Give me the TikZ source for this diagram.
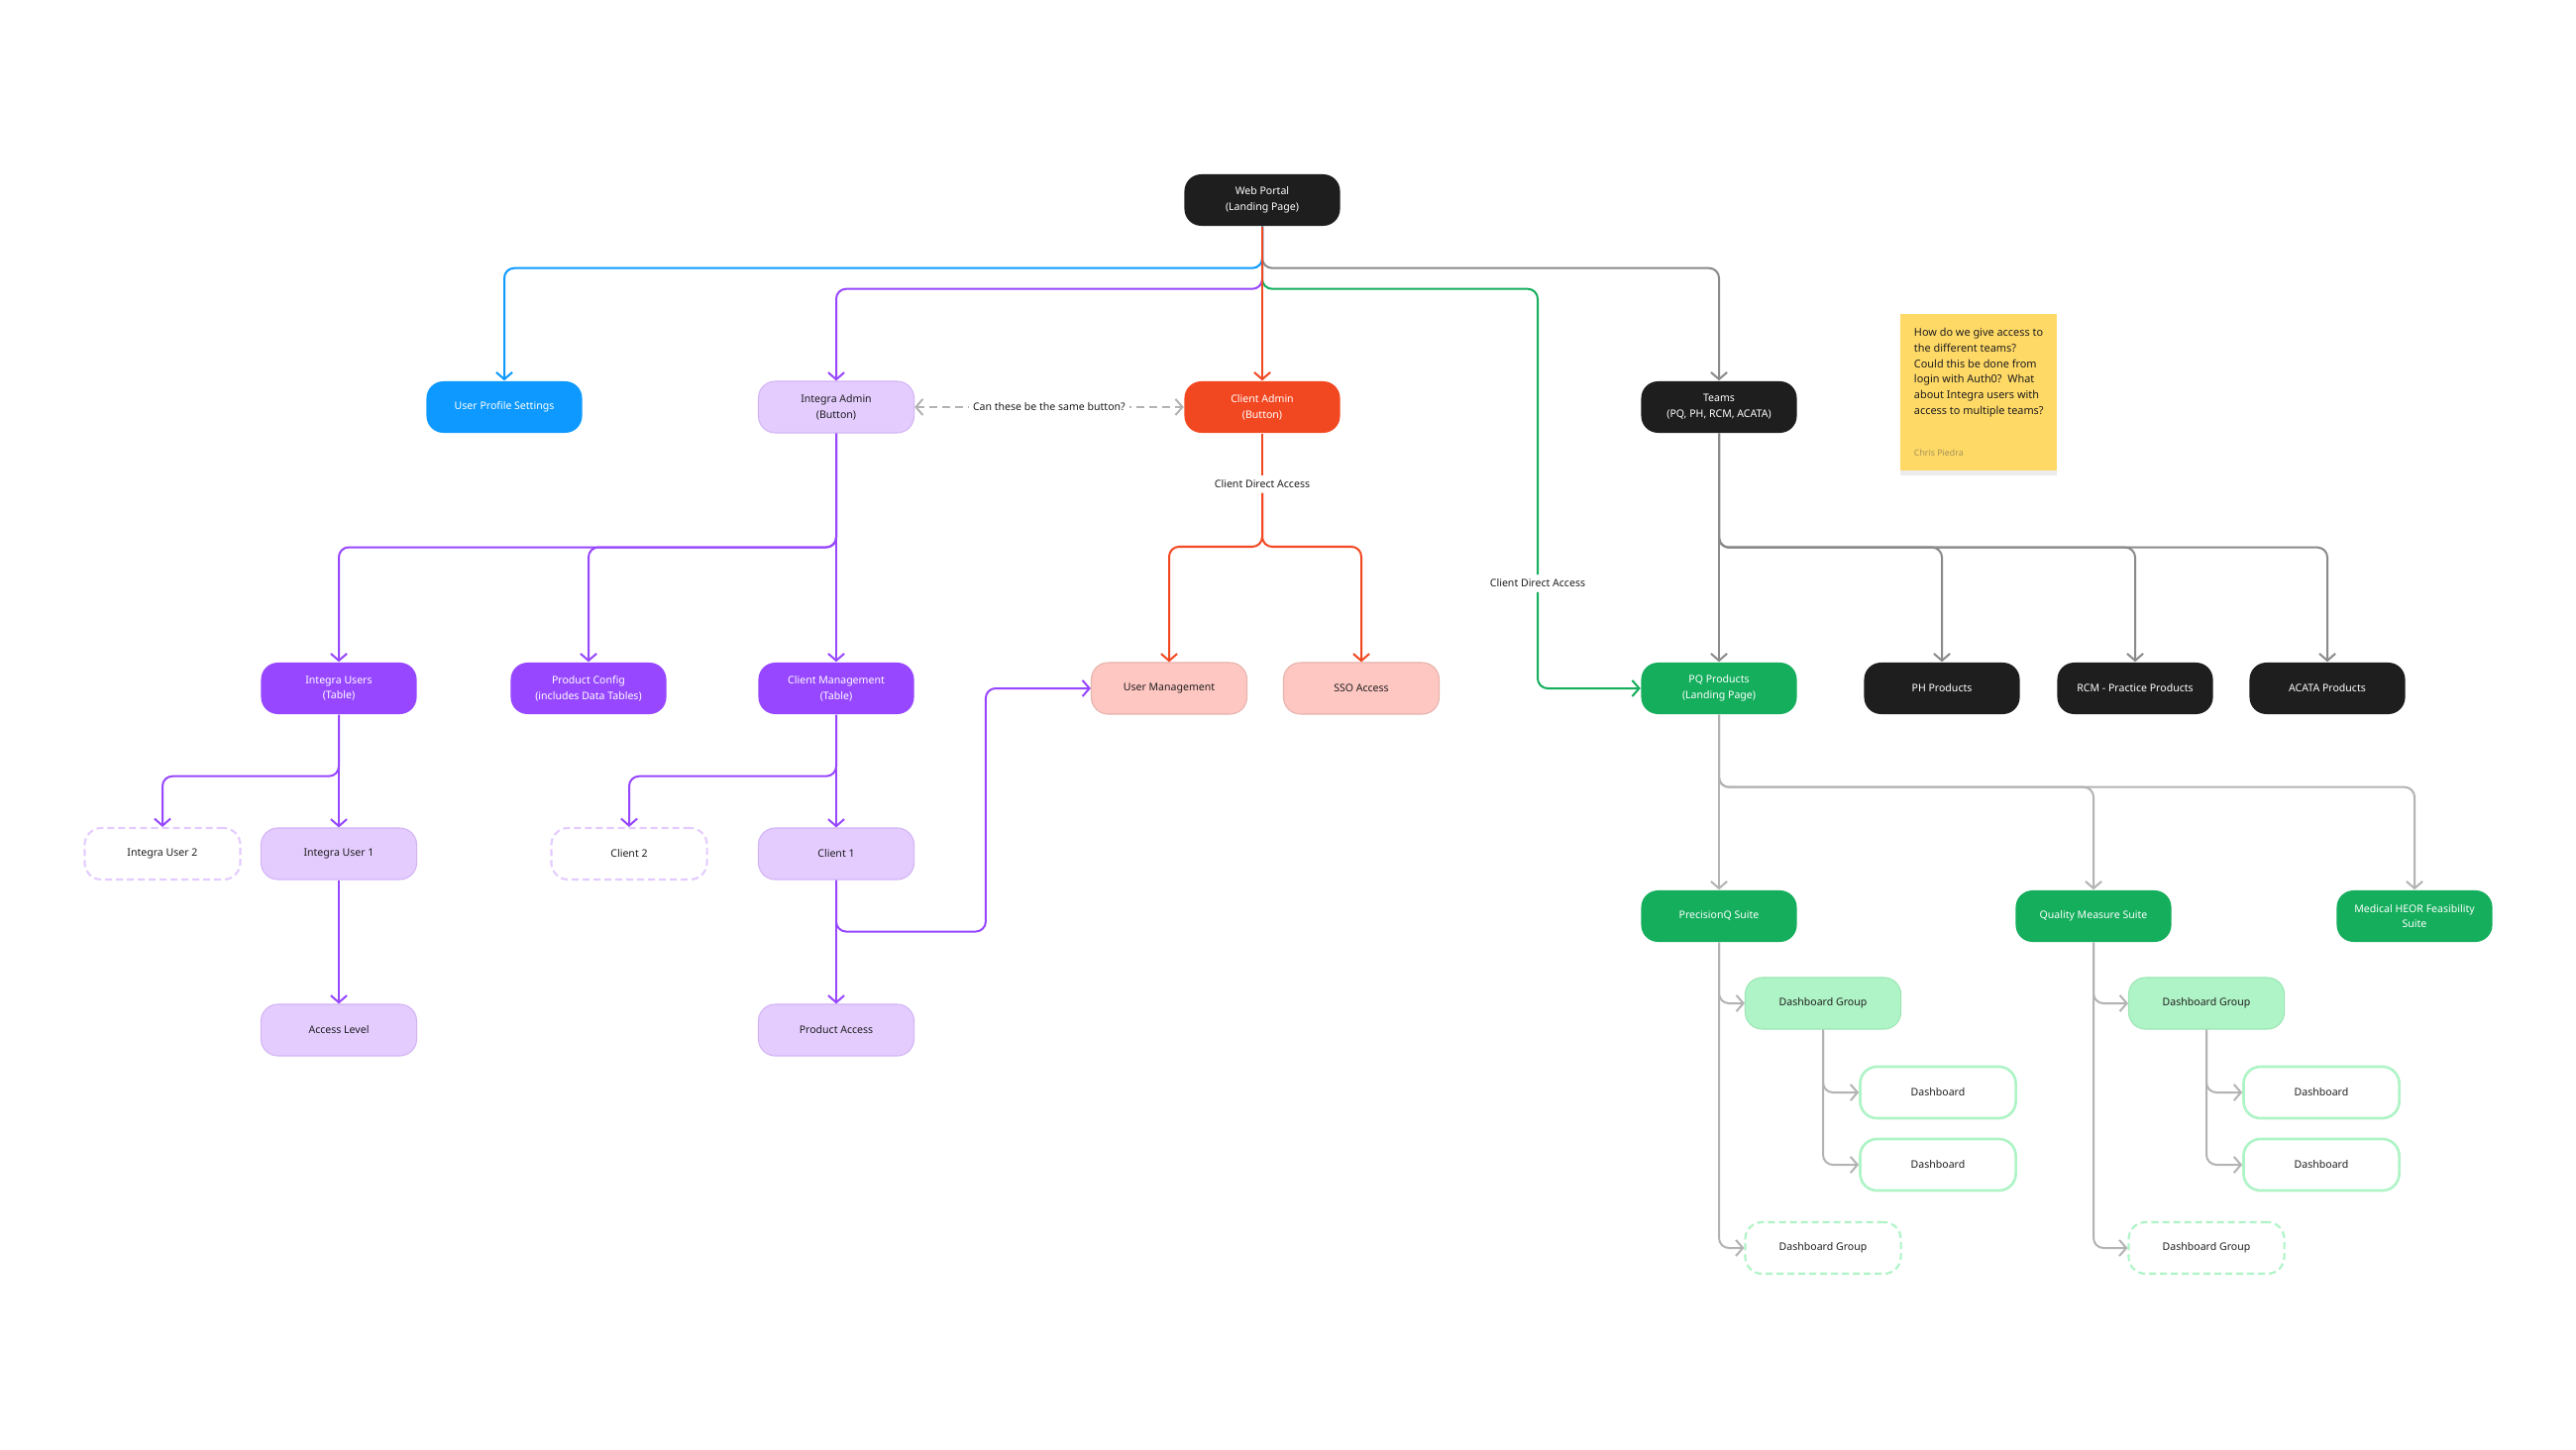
\documentclass[tikz,border=0pt]{standalone}
\usepackage{fontspec}
\setmainfont{Noto Sans}
\usepackage{xcolor}
\usetikzlibrary{arrows.meta,shadows}

\definecolor{ink}{HTML}{1E1E1E}
\definecolor{figblue}{HTML}{0D99FF}
\definecolor{figpurple}{HTML}{9747FF}
\definecolor{lilac}{HTML}{E4CCFF}
\definecolor{lilacedge}{HTML}{D3B4F5}
\definecolor{figred}{HTML}{F24822}
\definecolor{blush}{HTML}{FFC7C2}
\definecolor{blushedge}{HTML}{E6B3AD}
\definecolor{figgreen}{HTML}{14AE5C}
\definecolor{mint}{HTML}{AFF4C6}
\definecolor{mintedge}{HTML}{9DE6B5}
\definecolor{cgrey}{HTML}{8A8A8A}
\definecolor{cgreylt}{HTML}{B3B3B3}
\definecolor{stickyyellow}{HTML}{FFD966}
\definecolor{signature}{HTML}{A3925A}

\begin{document}
\begin{tikzpicture}[x=0.01cm, y=-0.01cm,
  every node/.style={font=\fontsize{3}{4.5}\selectfont, text=ink},
  box/.style={rounded corners=0.17cm, minimum width=1.57cm, minimum height=0.52cm, align=center, inner sep=0pt},
  darkbox/.style={box, fill=ink, text=white},
  bluebox/.style={box, fill=figblue, text=white},
  redbox/.style={box, fill=figred, text=white},
  purplebox/.style={box, fill=figpurple, text=white},
  greenbox/.style={box, fill=figgreen, text=white},
  lilacbox/.style={box, fill=lilac, draw=lilacedge, line width=0.3pt},
  lilacdash/.style={box, fill=white, draw=lilac, line width=0.6pt, dash pattern=on 0.07cm off 0.04cm},
  blushbox/.style={box, fill=blush, draw=blushedge, line width=0.3pt},
  mintbox/.style={box, fill=mint, draw=mintedge, line width=0.3pt},
  boardbox/.style={box, fill=white, draw=mint, line width=0.75pt},
  mintdash/.style={box, fill=white, draw=mint, line width=0.6pt, dash pattern=on 0.07cm off 0.04cm},
  tag/.style={fill=white, inner sep=1.2pt},
  link/.style={line width=0.57pt, rounded corners=0.1cm, -{Straight Barb[length=2pt,width=4.6pt]}},
  bluelink/.style={link, draw=figblue},
  purplelink/.style={link, draw=figpurple},
  redlink/.style={link, draw=figred},
  greenlink/.style={link, draw=figgreen},
  greylink/.style={link, draw=cgrey},
  softlink/.style={link, draw=cgreylt}]

  \fill[white] (0,0) rectangle (2600,1464);

  \node[darkbox] (web) at (1274,202) {Web Portal\\(Landing Page)};
  \node[bluebox] (profile) at (509,411) {User Profile Settings};
  \node[lilacbox] (iadmin) at (844,411) {Integra Admin\\(Button)};
  \node[redbox] (cadmin) at (1274,411) {Client Admin\\(Button)};
  \node[darkbox] (teams) at (1735,411) {Teams\\(PQ, PH, RCM, ACATA)};

  \node[fill=stickyyellow, minimum width=1.58cm, minimum height=1.57cm, inner sep=0pt,
        drop shadow={opacity=0.15, shadow xshift=0pt, shadow yshift=-0.05cm}] (note) at (1997,396) {};
  \node[anchor=north west, align=left, inner sep=0pt, font=\fontsize{3.1}{4.47}\selectfont] (question) at ([shift={(14,14)}]note.north west)
    {How do we give access to\\the different teams?\\Could this be done from\\login with Auth0?\ \ What\\about Integra users with\\access to multiple teams?};
  \node[anchor=west, inner sep=0pt, text=signature, font=\fontsize{2.5}{3}\selectfont] (author) at ([shift={(14,-18)}]note.south west) {Chris Piedra};

  \node[purplebox] (iusers) at (342,695) {Integra Users\\(Table)};
  \node[purplebox] (pconfig) at (594,695) {Product Config\\(includes Data Tables)};
  \node[purplebox] (cmgmt) at (844,695) {Client Management\\(Table)};
  \node[blushbox] (usermgmt) at (1180,695) {User Management};
  \node[blushbox] (sso) at (1374,695) {SSO Access};
  \node[greenbox] (pqprod) at (1735,695) {PQ Products\\(Landing Page)};
  \foreach \n/\x/\t in {ph/1960/PH Products, rcm/2155/RCM - Practice Products, acata/2349/ACATA Products}
    \node[darkbox] (\n) at (\x,695) {\t};

  \node[lilacdash] (iuser2) at (164,862) {Integra User 2};
  \node[lilacbox] (iuser1) at (342,862) {Integra User 1};
  \node[lilacdash] (client2) at (635,862) {Client 2};
  \node[lilacbox] (client1) at (844,862) {Client 1};
  \node[lilacbox] (access) at (342,1040) {Access Level};
  \node[lilacbox] (prodaccess) at (844,1040) {Product Access};

  \node[greenbox] (pq-suite) at (1735,925) {PrecisionQ Suite};
  \node[greenbox] (qm-suite) at (2113,925) {Quality Measure Suite};
  \node[greenbox] (heor) at (2437,925) {Medical HEOR Feasibility\\Suite};

  \node[tag] (direct1) at (1274,489) {Client Direct Access};
  \node[tag] (direct2) at (1552,589) {Client Direct Access};
  \coordinate (split) at (1274,552);

  \draw[bluelink] (web.south) -- ++(0,42) -| (profile.north);
  \draw[greylink] (web.south) -- ++(0,42) -| (teams.north);
  \draw[purplelink] (web.south) -- ++(0,63) -| (iadmin.north);
  \draw[greenlink] (web.south) -- ++(0,63) -| (direct2) |- (pqprod.west);
  \draw[redlink] (web.south) -- (cadmin.north);

  \draw[line width=0.57pt, draw=cgreylt, dash pattern=on 0.08cm off 0.05cm,
        {Straight Barb[length=2pt,width=4.6pt]}-{Straight Barb[length=2pt,width=4.6pt]}]
    (iadmin.east) -- node[tag] (same) {Can these be the same button?} (cadmin.west);

  \draw[redlink,-] (cadmin.south) -- (direct1);
  \draw[redlink] (direct1) -- (split) -| (usermgmt.north);
  \draw[redlink] (direct1) -- (split) -| (sso.north);

  \draw[purplelink] (iadmin.south) -- (cmgmt.north);
  \draw[purplelink] (iadmin.south) -- ++(0,115) -| (iusers.north);
  \draw[purplelink] (iadmin.south) -- ++(0,115) -| (pconfig.north);
  \draw[purplelink] (iusers.south) -- (iuser1.north);
  \draw[purplelink] (iusers.south) -- ++(0,62) -| (iuser2.north);
  \draw[purplelink] (iuser1.south) -- (access.north);
  \draw[purplelink] (cmgmt.south) -- (client1.north);
  \draw[purplelink] (cmgmt.south) -- ++(0,62) -| (client2.north);
  \draw[purplelink] (client1.south) -- (prodaccess.north);
  \draw[purplelink] (client1.south) -- ++(0,52) -| ([xshift=-1.06cm]usermgmt.west) -- (usermgmt.west);

  \draw[greylink] (teams.south) -- (pqprod.north);
  \foreach \n in {ph,rcm,acata}
    \draw[greylink] (teams.south) -- ++(0,115) -| (\n.north);

  \draw[softlink] (pqprod.south) -- (pq-suite.north);
  \draw[softlink] (pqprod.south) -- ++(0,73) -| (qm-suite.north);
  \draw[softlink] (pqprod.south) -- ++(0,73) -| (heor.north);

  \foreach \s/\x in {pq/1840, qm/2227} {
    \node[mintbox] (\s-group) at (\x,1013) {Dashboard Group};
    \node[boardbox] (\s-board1) at (\x+116,1103) {Dashboard};
    \node[boardbox] (\s-board2) at (\x+116,1176) {Dashboard};
    \node[mintdash] (\s-group2) at (\x,1260) {Dashboard Group};
    \draw[softlink] (\s-suite.south) |- (\s-group.west);
    \draw[softlink] (\s-suite.south) |- (\s-group2.west);
    \draw[softlink] (\s-group.south) |- (\s-board1.west);
    \draw[softlink] (\s-group.south) |- (\s-board2.west);
  }
\end{tikzpicture}
\end{document}
